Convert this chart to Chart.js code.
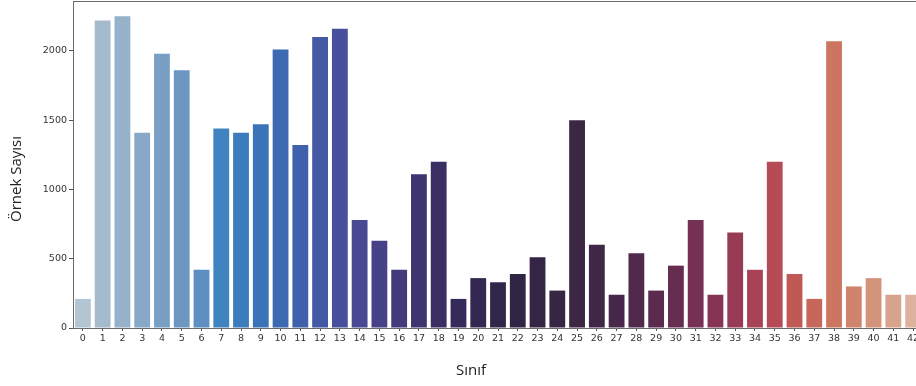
<!DOCTYPE html>
<html>
<head>
<meta charset="utf-8">
<script src="https://cdn.jsdelivr.net/npm/chart.js@4"></script>
<style>
  html, body { margin: 0; padding: 0; background: #fff; overflow: hidden; }
  #wrap { width: 923px; height: 386px; position: relative; }
</style>
</head>
<body>
<div id="wrap"><canvas id="chart"></canvas></div>
<script>
// class ids 0..42 and sample counts per class
const classes = ['0','1','2','3','4','5','6','7','8','9','10','11','12','13','14','15','16','17','18','19','20',
  '21','22','23','24','25','26','27','28','29','30','31','32','33','34','35','36','37','38','39','40','41','42'];
const counts = [210, 2220, 2250, 1410, 1980, 1860, 420, 1440, 1410, 1470, 2010, 1320, 2100, 2160, 780, 630, 420,
  1110, 1200, 210, 360, 330, 390, 510, 270, 1500, 600, 240, 540, 270, 450, 780, 240, 689, 420, 1200, 390, 210,
  2070, 300, 360, 240, 240];
const barColors = ['#b3c5d3','#a4bacd','#96b1ca','#88a8c7','#7a9fc4','#6d97c2','#5f8ec0','#3f84c1','#3b7cbc',
  '#3a73b7','#3c69b1','#3f60ab','#4458a4','#484f9c','#494893','#474188','#433a7c','#3e3470','#392f64','#352b5a',
  '#322851','#30264a','#312545','#332543','#372643','#3b2644','#402746','#47284a','#50294c','#5a2b4e','#662d51',
  '#763053','#873454','#983a56','#a84256','#b64b55','#c05856','#c7665a','#cc7561','#d0846d','#d4947c','#d8a38d','#dcb29f'];
const yTicks = [0, 500, 1000, 1500, 2000];

// top spine + axis titles placed like the original figure
const frame = {
  id: 'frame',
  afterDraw(chart) {
    const { ctx, chartArea: a } = chart;
    ctx.save();
    ctx.strokeStyle = '#6a6a6a';
    ctx.lineWidth = 1;
    ctx.beginPath();
    ctx.moveTo(a.left, a.top + 0.5);
    ctx.lineTo(a.right, a.top + 0.5);
    ctx.stroke();
    ctx.fillStyle = '#222';
    ctx.font = '15px "Open Sans"';
    ctx.textAlign = 'center';
    ctx.textBaseline = 'middle';
    ctx.fillText('Sınıf', 471, 371);
    ctx.translate(17, 179);
    ctx.rotate(-Math.PI / 2);
    ctx.fillText('Örnek Sayısı', 0, 0);
    ctx.restore();
  }
};

new Chart(document.getElementById('chart'), {
  type: 'bar',
  data: {
    labels: classes,
    datasets: [{
      data: counts,
      backgroundColor: barColors,
      borderWidth: 0,
      barPercentage: 0.8,
      categoryPercentage: 1
    }]
  },
  options: {
    responsive: true,
    maintainAspectRatio: false,
    animation: false,
    layout: { padding: { top: 1, right: 0, left: 0, bottom: 0 } },
    plugins: { legend: { display: false }, tooltip: { enabled: false } },
    scales: {
      x: {
        offset: true,
        grid: { display: true, drawOnChartArea: false, drawTicks: true, tickLength: 3, color: '#555', offset: false },
        border: { display: true, color: '#6a6a6a' },
        ticks: { autoSkip: false, maxRotation: 0, padding: 2, color: '#333', font: { family: 'DejaVu Sans', size: 9.5 } },
        afterFit(s) { s.height = 58; s.paddingLeft = 0; s.paddingRight = 0; }
      },
      y: {
        min: 0,
        max: 2360,
        grid: { display: true, drawOnChartArea: false, drawTicks: true, tickLength: 4, color: '#555' },
        border: { display: true, color: '#6a6a6a' },
        ticks: {
          stepSize: 500, includeBounds: false, padding: 2, color: '#333',
          font: { family: 'DejaVu Sans', size: 9.5 },
          callback: v => String(v)
        },
        afterBuildTicks(s) { s.ticks = yTicks.map(v => ({ value: v })); },
        afterFit(s) { s.width = 73; s.paddingTop = 0; s.paddingBottom = 0; }
      }
    }
  },
  plugins: [frame]
});
</script>
</body>
</html>
